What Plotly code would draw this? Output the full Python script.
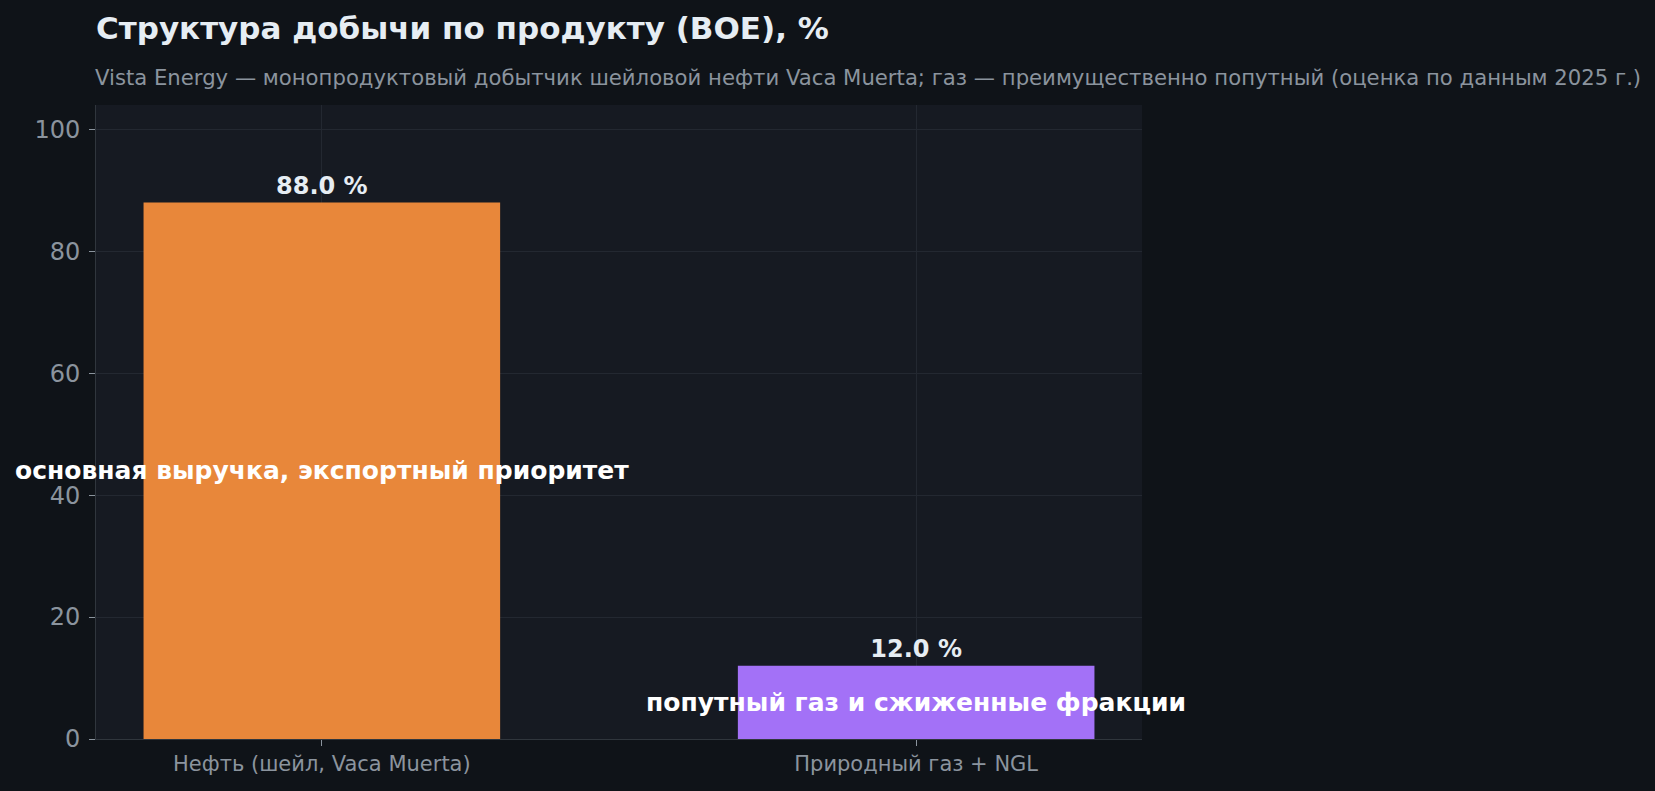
import plotly.graph_objects as go

# данные
products = ['Нефть (шейл, Vaca Muerta)', 'Природный газ + NGL']
shares = [88.0, 12.0]
notes = ['основная выручка, экспортный приоритет', 'попутный газ и сжиженные фракции']
bar_colors = ['#e8873a', '#a371f7']
y_ticks = [0, 20, 40, 60, 80, 100]

title = 'Структура добычи по продукту (BOE), %'
subtitle = ('Vista Energy — монопродуктовый добытчик шейловой нефти Vaca Muerta; '
            'газ — преимущественно попутный (оценка по данным 2025 г.)')

fig = go.Figure()
fig.add_trace(go.Bar(
    x=products,
    y=shares,
    width=0.6,
    marker=dict(color=bar_colors, line=dict(width=0)),
    text=[f'{v:.1f} %' for v in shares],
    textposition='outside',
    textfont=dict(family='DejaVu Sans', size=24, color='#e6edf3', weight='bold'),
    cliponaxis=False,
    hoverinfo='skip',
))

# подписи внутри столбцов (как в оригинале, выходят за ширину столбца)
for p, v, n in zip(products, shares, notes):
    fig.add_annotation(
        x=p, y=v / 2, text=f'<b>{n}</b>', showarrow=False,
        font=dict(family='DejaVu Sans', size=25, color='#ffffff'),
        xanchor='center', yanchor='middle',
    )

fig.add_annotation(
    x=0, y=1.043, xref='paper', yref='paper', xanchor='left', yanchor='middle',
    xshift=-3, text=subtitle, showarrow=False,
    font=dict(family='DejaVu Sans', size=21.2, color='#8b949e'),
)

fig.update_layout(
    width=1655,
    height=791,
    paper_bgcolor='#0f1318',
    plot_bgcolor='#161a22',
    margin=dict(l=96, r=513, t=105, b=52),
    title=dict(
        text=f'<b>{title}</b>', x=96 / 1655, xanchor='left',
        y=1 - 28.5 / 791, yanchor='middle',
        font=dict(family='DejaVu Sans', size=31, color='#e6edf3'),
    ),
    showlegend=False,
    bargap=0.4,
)
fig.update_xaxes(
    range=[-0.38, 1.38],
    showgrid=True, gridcolor='#232831', gridwidth=1,
    ticks='outside', tickcolor='#8b949e', ticklen=6,
    tickfont=dict(family='DejaVu Sans', size=21, color='#8b949e'),
    showline=True, linecolor='#30363d', linewidth=1,
)
fig.update_yaxes(
    range=[0, 104],
    tickvals=y_ticks,
    showgrid=True, gridcolor='#232831', gridwidth=1,
    ticks='outside', tickcolor='#8b949e', ticklen=6,
    ticklabelstandoff=4,
    tickfont=dict(family='DejaVu Sans', size=24, color='#8b949e'),
    showline=True, linecolor='#30363d', linewidth=1,
    zeroline=False,
)

fig.write_html('out.html',
               config={'displayModeBar': False},
               post_script="document.body.style.margin='0';"
                           "document.body.style.background='#0f1318';")
